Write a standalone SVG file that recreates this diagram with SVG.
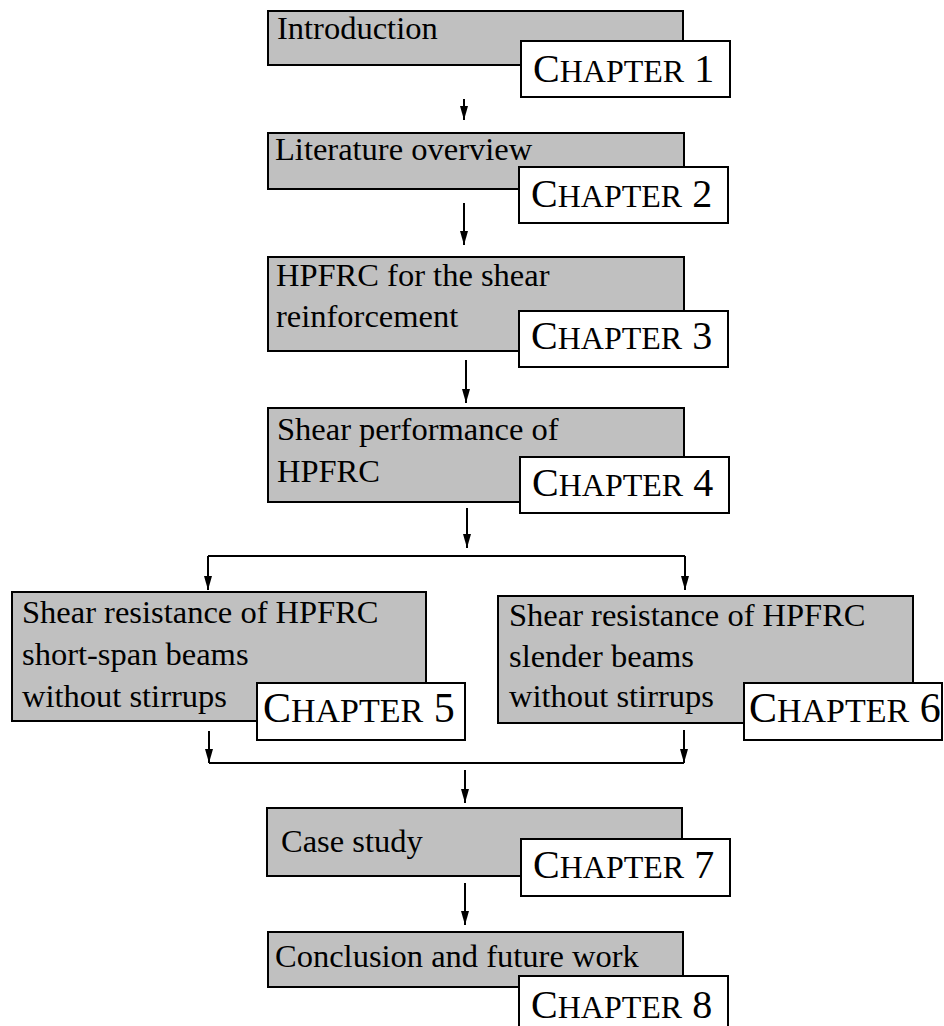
<svg xmlns="http://www.w3.org/2000/svg" width="944" height="1026" viewBox="0 0 944 1026">
<style>
.g{fill:#c0c0c0;stroke:#000;stroke-width:2}
.w{fill:#fff;stroke:#000;stroke-width:2}
.t{font-family:"Liberation Serif","Times New Roman",serif;font-size:32.5px;fill:#000}
.c{font-family:"Liberation Serif","Times New Roman",serif;font-size:40px;fill:#000}
.c2{font-family:"Liberation Serif","Times New Roman",serif;font-size:42px;fill:#000}
.sc{font-size:32px}
.sc2{font-size:34px}
.ln{fill:none;stroke:#000;stroke-width:2}
</style>
<defs>
<marker id="ah" markerUnits="userSpaceOnUse" markerWidth="15" markerHeight="9" refX="14" refY="4" orient="auto">
<path d="M0,0 L14,4 L0,8 z" fill="#000"/>
</marker>
</defs>
<rect width="944" height="1026" fill="#fff"/>
<g id="connectors">
<path class="ln" d="M464,99 V120" marker-end="url(#ah)"/>
<path class="ln" d="M464,203 V245" marker-end="url(#ah)"/>
<path class="ln" d="M466,360 V403" marker-end="url(#ah)"/>
<path class="ln" d="M467,508 V548" marker-end="url(#ah)"/>
<path class="ln" d="M208,556 H685"/>
<path class="ln" d="M208,556 V590" marker-end="url(#ah)"/>
<path class="ln" d="M685,556 V590" marker-end="url(#ah)"/>
<path class="ln" d="M209,731 V763" marker-end="url(#ah)"/>
<path class="ln" d="M684,730 V763" marker-end="url(#ah)"/>
<path class="ln" d="M209,763 H684"/>
<path class="ln" d="M465,770 V803" marker-end="url(#ah)"/>
<path class="ln" d="M465,883 V925" marker-end="url(#ah)"/>
</g>
<g id="node1">
<rect class="g" x="268" y="11" width="415" height="54"/>
<text class="t" x="277" y="39">Introduction</text>
<rect class="w" x="521" y="41" width="209" height="56"/>
<text class="c" x="533" y="82">C<tspan class="sc">HAPTER</tspan> 1</text>
</g>
<g id="node2">
<rect class="g" x="268" y="133" width="416" height="56"/>
<text class="t" x="275" y="160">Literature overview</text>
<rect class="w" x="519" y="167" width="209" height="56"/>
<text class="c" x="531" y="207">C<tspan class="sc">HAPTER</tspan> 2</text>
</g>
<g id="node3">
<rect class="g" x="268" y="257" width="416" height="94"/>
<text class="t" x="276" y="286">HPFRC for the shear</text>
<text class="t" x="276" y="327">reinforcement</text>
<rect class="w" x="519" y="311" width="209" height="56"/>
<text class="c" x="531" y="349">C<tspan class="sc">HAPTER</tspan> 3</text>
</g>
<g id="node4">
<rect class="g" x="268" y="408" width="416" height="94"/>
<text class="t" x="277" y="440">Shear performance of</text>
<text class="t" x="277" y="482">HPFRC</text>
<rect class="w" x="520" y="457" width="209" height="56"/>
<text class="c" x="532" y="496">C<tspan class="sc">HAPTER</tspan> 4</text>
</g>
<g id="node5">
<rect class="g" x="12" y="592" width="414" height="129"/>
<text class="t" x="22" y="623">Shear resistance of HPFRC</text>
<text class="t" x="22" y="665">short-span beams</text>
<text class="t" x="22" y="707">without stirrups</text>
<rect class="w" x="257" y="683" width="208" height="57"/>
<text class="c2" x="263" y="722">C<tspan class="sc2">HAPTER</tspan> 5</text>
</g>
<g id="node6">
<rect class="g" x="498" y="596" width="415" height="127"/>
<text class="t" x="509" y="626">Shear resistance of HPFRC</text>
<text class="t" x="509" y="667">slender beams</text>
<text class="t" x="509" y="707">without stirrups</text>
<rect class="w" x="744" y="683" width="198" height="57"/>
<text class="c2" x="749" y="722">C<tspan class="sc2">HAPTER</tspan> 6</text>
</g>
<g id="node7">
<rect class="g" x="267" y="808" width="415" height="68"/>
<text class="t" x="281" y="852">Case study</text>
<rect class="w" x="521" y="839" width="209" height="57"/>
<text class="c" x="533" y="878">C<tspan class="sc">HAPTER</tspan> 7</text>
</g>
<g id="node8">
<rect class="g" x="268" y="932" width="415" height="55"/>
<text class="t" x="275" y="967">Conclusion and future work</text>
<rect class="w" x="519" y="976" width="209" height="60"/>
<text class="c" x="531" y="1018">C<tspan class="sc">HAPTER</tspan> 8</text>
</g>
</svg>
